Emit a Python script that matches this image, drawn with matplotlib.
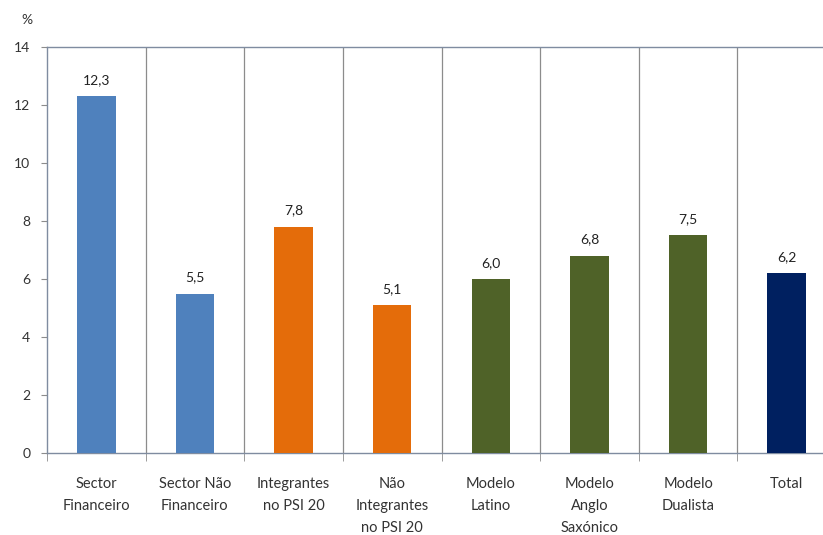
import matplotlib
matplotlib.use("Agg")
import matplotlib.pyplot as plt

# dados do grafico
categorias = ["Sector\nFinanceiro", "Sector Não\nFinanceiro", "Integrantes\nno PSI 20",
              "Não\nIntegrantes\nno PSI 20", "Modelo\nLatino", "Modelo\nAnglo\nSaxónico",
              "Modelo\nDualista", "Total"]
valores = [12.3, 5.5, 7.8, 5.1, 6.0, 6.8, 7.5, 6.2]
rotulos = ["12,3", "5,5", "7,8", "5,1", "6,0", "6,8", "7,5", "6,2"]
cores = ["#4F81BD", "#4F81BD", "#E46C0A", "#E46C0A", "#4F6228", "#4F6228", "#4F6228", "#002060"]
yticks = [0, 2, 4, 6, 8, 10, 12, 14]

plt.rcParams['font.family'] = ['Lato', 'DejaVu Sans']

fig = plt.figure(figsize=(8.23, 5.35), dpi=100)
ax = fig.add_axes([47/823, 82/535, 789/823, 406/535])

x = list(range(len(valores)))
ax.bar(x, valores, width=0.39, color=cores, zorder=3)
for xi, v, r in zip(x, valores, rotulos):
    ax.text(xi, v + 0.35, r, ha="center", va="bottom", fontsize=10, color="#222222")

ax.set_xlim(-0.5, len(valores) - 0.5)
ax.set_ylim(0, 14)

# linhas verticais separando categorias
for b in range(1, len(valores)):
    ax.axvline(b - 0.5, color="#8C8C8C", lw=0.9, zorder=1)

ax.set_yticks(yticks)
ax.set_yticklabels([str(t) for t in yticks], fontsize=10, color="#333333")
ax.tick_params(axis="y", length=4, color="#8C8C8C", pad=8)

ax.set_xticks(x)
ax.set_xticklabels(categorias, fontsize=10.5, color="#333333", linespacing=1.75)
ax.tick_params(axis="x", which="major", length=0, pad=17)
ax.set_xticks([b - 0.5 for b in range(len(valores) + 1)], minor=True)
ax.tick_params(axis="x", which="minor", length=6, color="#8C8C8C")

for s in ["left", "bottom", "top"]:
    ax.spines[s].set_color("#7F8CA0")
    ax.spines[s].set_linewidth(1.0)
ax.spines["right"].set_visible(False)

fig.text(27/823, 1 - 20/535, "%", fontsize=10, color="#333333", ha="center", va="center")

fig.savefig("out.png", dpi=100)
